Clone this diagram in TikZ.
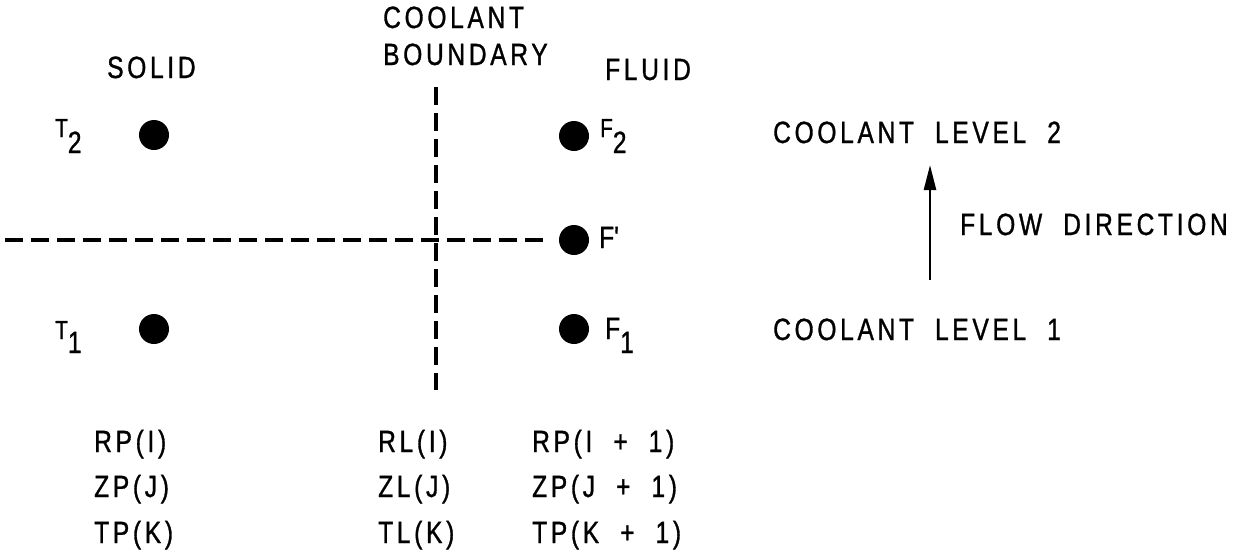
\documentclass[tikz,border=0pt]{standalone}
\usepackage{fontspec}
\setmainfont{Liberation Sans}[FakeStretch=0.8,FakeBold=1,LetterSpace=12,WordSpace=2]
\usetikzlibrary{arrows.meta}
\newcommand\smallch[1]{{\fontsize{26}{26}\selectfont #1}}
\begin{document}
\begin{tikzpicture}[x=1pt,y=-1pt,
  txt/.style={inner sep=0pt, anchor=base west, font=\fontsize{30.7}{36}\selectfont},
  dot/.style={circle, fill=black, minimum size=30pt, inner sep=0pt},
  bline/.style={line width=3.5pt, dash pattern=on 18pt off 8pt},
  flow/.style={line width=2.5pt, -{Triangle[length=25pt,width=12pt]}}]
\useasboundingbox (0,0) rectangle (1233,552);
% dots
\node[dot] (t2) at (154,135) {};
\node[dot] (t1) at (154,329) {};
\node[dot] (f2) at (574,136) {};
\node[dot] (fp) at (574,240) {};
\node[dot] (f1) at (574,329) {};
% dashed boundary lines
\coordinate (hl) at (5,240);
\coordinate (hr) at (543,240);
\coordinate (vt) at (436,87);
\coordinate (vb) at (436,390);
\draw[bline] (hl) -- (hr);
\draw[bline] (vt) -- (vb);
% flow arrow
\coordinate (ab) at (930,280);
\coordinate (at) at (930,165);
\draw[flow] (ab) -- (at);
% headings
\node[txt] (cool) at (383,28) {COOLANT};
\node[txt] (bound) at (383,65) {BOUNDARY};
\node[txt] (solid) at (107,78) {SOLID};
\node[txt] (fluid) at (605,80) {FLUID};
\node[txt] (cl2) at (773,143) {COOLANT LEVEL 2};
\node[txt] (fd) at (960,235) {FLOW DIRECTION};
\node[txt] (cl1) at (773,340) {COOLANT LEVEL 1};
% point labels
\node[txt] (lt2) at (55,137) {\smallch{T}\raisebox{-16pt}{2}};
\node[txt] (lf2) at (600,137) {\smallch{F}\raisebox{-16pt}{2}};
\node[txt] (lt1) at (55,339) {\smallch{T}\raisebox{-14pt}{1}};
\node[txt] (lf1) at (605,339) {F\raisebox{-14pt}{1}};
\node[txt] (lfp) at (599,248) {F\textquotesingle};
% variable names
\node[txt] (rp1) at (94,452) {RP(I)};
\node[txt] (zp1) at (94,497) {ZP(J)};
\node[txt] (tp1) at (94,543) {TP(K)};
\node[txt] (rl) at (378,452) {RL(I)};
\node[txt] (zl) at (378,497) {ZL(J)};
\node[txt] (tl) at (378,543) {TL(K)};
\node[txt] (rp2) at (532,452) {RP(I + 1)};
\node[txt] (zp2) at (532,497) {ZP(J + 1)};
\node[txt] (tp2) at (532,543) {TP(K + 1)};
\end{tikzpicture}
\end{document}
